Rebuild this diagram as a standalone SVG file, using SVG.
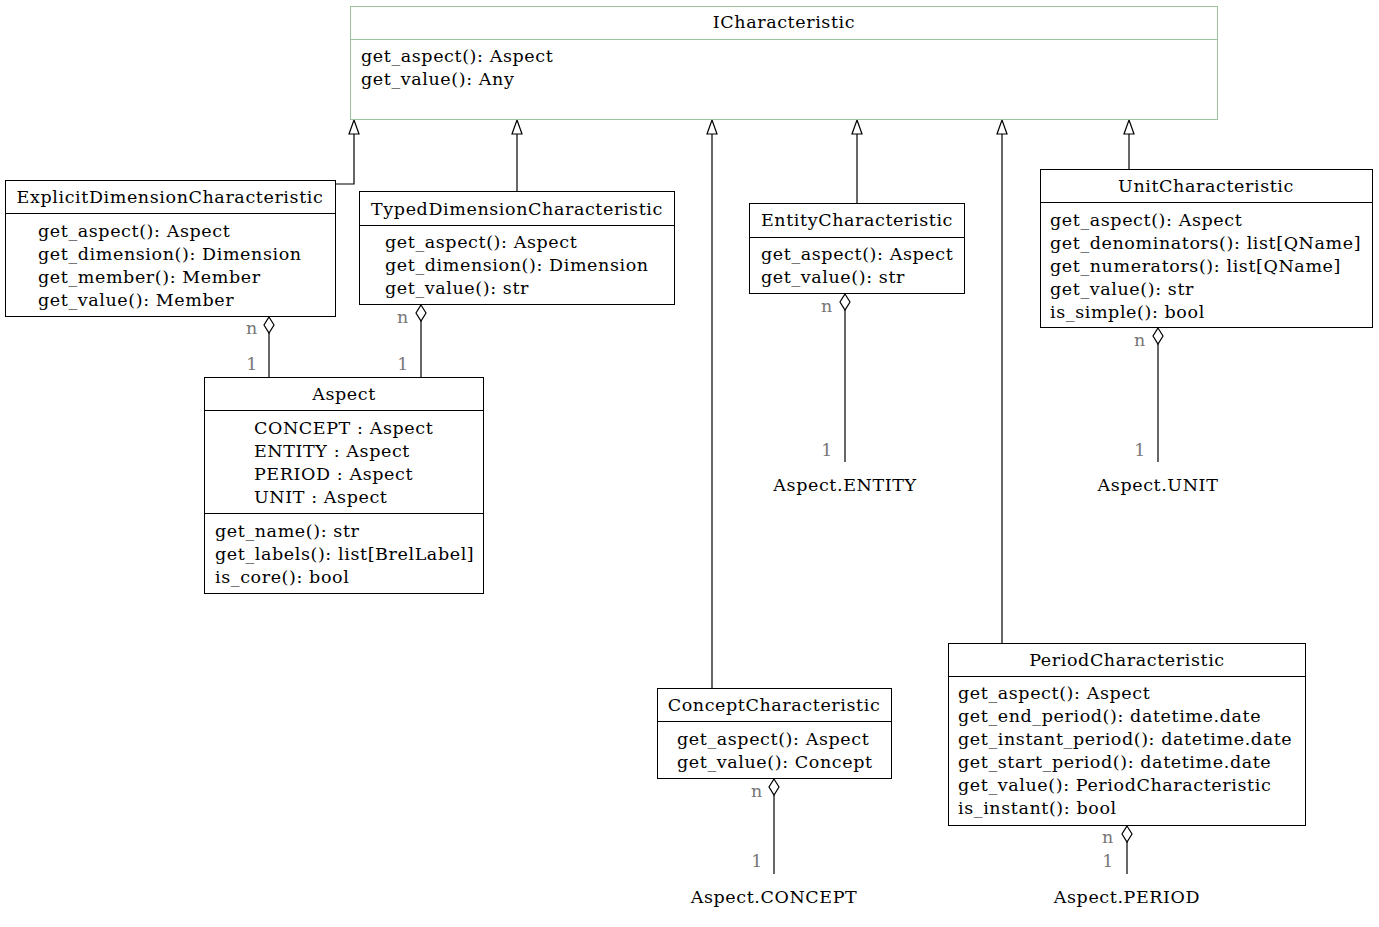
<svg xmlns="http://www.w3.org/2000/svg" width="1379" height="927" viewBox="0 0 1379 927">
  <style>
    text { font-family: "DejaVu Serif", "Liberation Serif", serif; font-size: 17.5px; letter-spacing: 0.6px; fill: #000; }
    .t { text-anchor: middle; }
    .m { fill: #777; }
    .box { fill: #fff; stroke: #000; stroke-width: 1; }
    .ibox { fill: #fff; stroke: #9cc49c; stroke-width: 1; }
    .sep { stroke: #000; stroke-width: 1; }
    .isep { stroke: #9cc49c; stroke-width: 1; }
    .edge { fill: none; stroke: #000; stroke-width: 1.2; }
    .head { fill: #fff; stroke: #000; stroke-width: 1.2; }
  </style>
  <rect width="1379" height="927" fill="#fff"/>

  <!-- connectors -->
  <g id="edges">
    <!-- inheritance: hollow triangle at the parent -->
    <path class="edge" d="M335 184 H354 V134"/>
    <path class="head" d="M354 120 L359 134 L349 134 Z"/>
    <path class="edge" d="M517 191 V134"/>
    <path class="head" d="M517 120 L522 134 L512 134 Z"/>
    <path class="edge" d="M712 688 V134"/>
    <path class="head" d="M712 120 L717 134 L707 134 Z"/>
    <path class="edge" d="M857 203 V134"/>
    <path class="head" d="M857 120 L862 134 L852 134 Z"/>
    <path class="edge" d="M1002 643 V134"/>
    <path class="head" d="M1002 120 L1007 134 L997 134 Z"/>
    <path class="edge" d="M1129 169 V134"/>
    <path class="head" d="M1129 120 L1134 134 L1124 134 Z"/>

    <!-- aggregations: hollow diamond at the owner -->
    <path class="edge" d="M269 333 V377"/>
    <path class="head" d="M269 317 L274 325 L269 333 L264 325 Z"/>
    <text class="m t" x="252" y="334">n</text>
    <text class="m t" x="252" y="370">1</text>

    <path class="edge" d="M421 321 V377"/>
    <path class="head" d="M421 305 L426 313 L421 321 L416 313 Z"/>
    <text class="m t" x="403" y="323">n</text>
    <text class="m t" x="403" y="370">1</text>

    <path class="edge" d="M845 310 V462"/>
    <path class="head" d="M845 294 L850 302 L845 310 L840 302 Z"/>
    <text class="m t" x="827" y="312">n</text>
    <text class="m t" x="827" y="456">1</text>

    <path class="edge" d="M1158 344 V462"/>
    <path class="head" d="M1158 328 L1163 336 L1158 344 L1153 336 Z"/>
    <text class="m t" x="1140" y="346">n</text>
    <text class="m t" x="1140" y="456">1</text>

    <path class="edge" d="M774 795 V874"/>
    <path class="head" d="M774 779 L779 787 L774 795 L769 787 Z"/>
    <text class="m t" x="757" y="797">n</text>
    <text class="m t" x="757" y="867">1</text>

    <path class="edge" d="M1127 842 V874"/>
    <path class="head" d="M1127 826 L1132 834 L1127 842 L1122 834 Z"/>
    <text class="m t" x="1108" y="843">n</text>
    <text class="m t" x="1108" y="867">1</text>
  </g>

  <g id="ICharacteristic">
    <rect class="ibox" x="350.5" y="6.5" width="867" height="113"/>
    <line class="isep" x1="350.5" y1="39.5" x2="1217.5" y2="39.5"/>
    <text class="t" x="784" y="28">ICharacteristic</text>
    <text x="361" y="62">get_aspect(): Aspect</text>
    <text x="361" y="85">get_value(): Any</text>
  </g>

  <g id="ExplicitDimensionCharacteristic">
    <rect class="box" x="5.5" y="180.5" width="330" height="136"/>
    <line class="sep" x1="5.5" y1="213.5" x2="335.5" y2="213.5"/>
    <text class="t" x="170" y="203">ExplicitDimensionCharacteristic</text>
    <text x="38" y="237">get_aspect(): Aspect</text>
    <text x="38" y="260">get_dimension(): Dimension</text>
    <text x="38" y="283">get_member(): Member</text>
    <text x="38" y="306">get_value(): Member</text>
  </g>

  <g id="TypedDimensionCharacteristic">
    <rect class="box" x="359.5" y="191.5" width="315" height="113"/>
    <line class="sep" x1="359.5" y1="225.5" x2="674.5" y2="225.5"/>
    <text class="t" x="517" y="215">TypedDimensionCharacteristic</text>
    <text x="385" y="248">get_aspect(): Aspect</text>
    <text x="385" y="271">get_dimension(): Dimension</text>
    <text x="385" y="294">get_value(): str</text>
  </g>

  <g id="EntityCharacteristic">
    <rect class="box" x="749.5" y="203.5" width="215" height="90"/>
    <line class="sep" x1="749.5" y1="237.5" x2="964.5" y2="237.5"/>
    <text class="t" x="857" y="226">EntityCharacteristic</text>
    <text x="761" y="260">get_aspect(): Aspect</text>
    <text x="761" y="283">get_value(): str</text>
  </g>

  <g id="UnitCharacteristic">
    <rect class="box" x="1040.5" y="169.5" width="332" height="158"/>
    <line class="sep" x1="1040.5" y1="202.5" x2="1372.5" y2="202.5"/>
    <text class="t" x="1206" y="192">UnitCharacteristic</text>
    <text x="1050" y="226">get_aspect(): Aspect</text>
    <text x="1050" y="249">get_denominators(): list[QName]</text>
    <text x="1050" y="272">get_numerators(): list[QName]</text>
    <text x="1050" y="295">get_value(): str</text>
    <text x="1050" y="318">is_simple(): bool</text>
  </g>

  <g id="Aspect">
    <rect class="box" x="204.5" y="377.5" width="279" height="216"/>
    <line class="sep" x1="204.5" y1="410.5" x2="483.5" y2="410.5"/>
    <line class="sep" x1="204.5" y1="513.5" x2="483.5" y2="513.5"/>
    <text class="t" x="344" y="400">Aspect</text>
    <text x="254" y="434">CONCEPT : Aspect</text>
    <text x="254" y="457">ENTITY : Aspect</text>
    <text x="254" y="480">PERIOD : Aspect</text>
    <text x="254" y="503">UNIT : Aspect</text>
    <text x="215" y="537">get_name(): str</text>
    <text x="215" y="560">get_labels(): list[BrelLabel]</text>
    <text x="215" y="583">is_core(): bool</text>
  </g>

  <g id="ConceptCharacteristic">
    <rect class="box" x="657.5" y="688.5" width="234" height="90"/>
    <line class="sep" x1="657.5" y1="721.5" x2="891.5" y2="721.5"/>
    <text class="t" x="774" y="711">ConceptCharacteristic</text>
    <text x="677" y="745">get_aspect(): Aspect</text>
    <text x="677" y="768">get_value(): Concept</text>
  </g>

  <g id="PeriodCharacteristic">
    <rect class="box" x="948.5" y="643.5" width="357" height="182"/>
    <line class="sep" x1="948.5" y1="676.5" x2="1305.5" y2="676.5"/>
    <text class="t" x="1127" y="666">PeriodCharacteristic</text>
    <text x="958" y="699">get_aspect(): Aspect</text>
    <text x="958" y="722">get_end_period(): datetime.date</text>
    <text x="958" y="745">get_instant_period(): datetime.date</text>
    <text x="958" y="768">get_start_period(): datetime.date</text>
    <text x="958" y="791">get_value(): PeriodCharacteristic</text>
    <text x="958" y="814">is_instant(): bool</text>
  </g>

  <g id="AspectENTITY"><text class="t" x="845" y="491">Aspect.ENTITY</text></g>
  <g id="AspectUNIT"><text class="t" x="1158" y="491">Aspect.UNIT</text></g>
  <g id="AspectCONCEPT"><text class="t" x="774" y="903">Aspect.CONCEPT</text></g>
  <g id="AspectPERIOD"><text class="t" x="1127" y="903">Aspect.PERIOD</text></g>
</svg>
